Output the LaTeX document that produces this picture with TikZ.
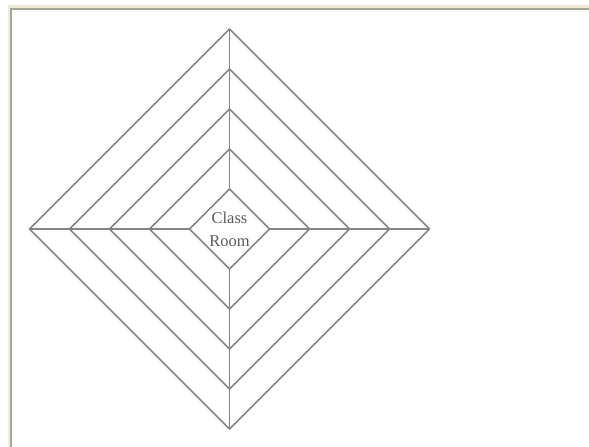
\documentclass[tikz,border=0pt]{standalone}
\usepackage{fontspec}
\setmainfont{Liberation Serif}
\usepackage{tikz}
\usetikzlibrary{calc}
\definecolor{framelight}{HTML}{EEEBDC}
\definecolor{framedark}{HTML}{A8A696}
\definecolor{linegray}{HTML}{858585}
\definecolor{textgray}{HTML}{5A5A5A}
\tikzset{ring/.style={linegray,line width=1.5pt,line join=round},
  roomlabel/.style={text=textgray,align=center,font=\fontsize{16.5}{23}\selectfont}}

\begin{document}
\begin{tikzpicture}[x=1pt,y=-1pt]
\useasboundingbox (0,0) rectangle (589,447);
% window frame
\fill[framelight] (8,5) rectangle (589,447);
\fill[framedark] (10,8) rectangle (589,447);
\fill[white] (11.5,10) rectangle (589,447);
\coordinate (c) at (229.5,229);
% nested diamonds
\foreach \r in {40,80,...,200}
  \draw[ring] ($(c)+(0,-\r)$)--($(c)+(\r,0)$)--($(c)+(0,\r)$)--($(c)+(-\r,0)$)--cycle;
\coordinate (outN) at ($(c)+(0,-200)$);
\coordinate (outS) at ($(c)+(0,200)$);
\coordinate (outW) at ($(c)+(-200,0)$);
\coordinate (outE) at ($(c)+(200,0)$);
\coordinate (inN) at ($(c)+(0,-40)$);
\coordinate (inS) at ($(c)+(0,40)$);
\coordinate (inW) at ($(c)+(-40,0)$);
\coordinate (inE) at ($(c)+(40,0)$);
\draw[ring] (outN)--(inN) (inS)--(outS) (outW)--(inW) (inE)--(outE);
\node[roomlabel] (room) at (c) {Class\\Room};
\end{tikzpicture}
\end{document}
